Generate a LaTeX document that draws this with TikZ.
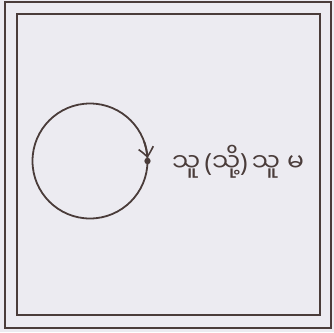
\documentclass[tikz,border=0pt]{standalone}
\usepackage{fontspec}
\newfontfamily\myfont[Script=Myanmar]{Noto Sans Myanmar UI}
\newfontfamily\parfont{Noto Sans}
\usetikzlibrary{arrows.meta,bending,calc}
\definecolor{ink}{HTML}{4A3C3A}
\definecolor{paper}{HTML}{ECEBF1}
\tikzset{frame/.style={draw=ink,line width=2pt},
  loopline/.style={draw=ink,line width=1.8pt},
  lbl/.style={font=\myfont\fontsize{25}{28}\selectfont,text=ink,anchor=west,inner sep=0pt}}
\begin{document}
\begin{tikzpicture}[x=1pt,y=-1pt]
\fill[paper] (0,0) rectangle (334,332);
\useasboundingbox (0,0) rectangle (334,332);
\draw[frame] (5.3,2.2) rectangle (330.5,328);
\draw[frame] (16.5,14) rectangle (320,314.5);
\coordinate (c) at (90,161);
\coordinate (dot) at (147.5,161);
\draw[loopline] (dot) arc[start angle=0,end angle=360,radius=57.5];
\draw[loopline,-{Straight Barb[length=9pt,width=15pt,line width=1.6pt,bend]}] ($(c)+(-20:57.5)$) arc[start angle=-20,end angle=-3,radius=57.5];
\fill[ink] (dot) circle (3.2);
\node[lbl] (t) at (172,162) {သူ{\parfont\fontsize{25}{28}\selectfont\,(}သို့{\parfont\fontsize{25}{28}\selectfont)\,}သူ\hspace{7pt}မ};
\end{tikzpicture}
\end{document}
